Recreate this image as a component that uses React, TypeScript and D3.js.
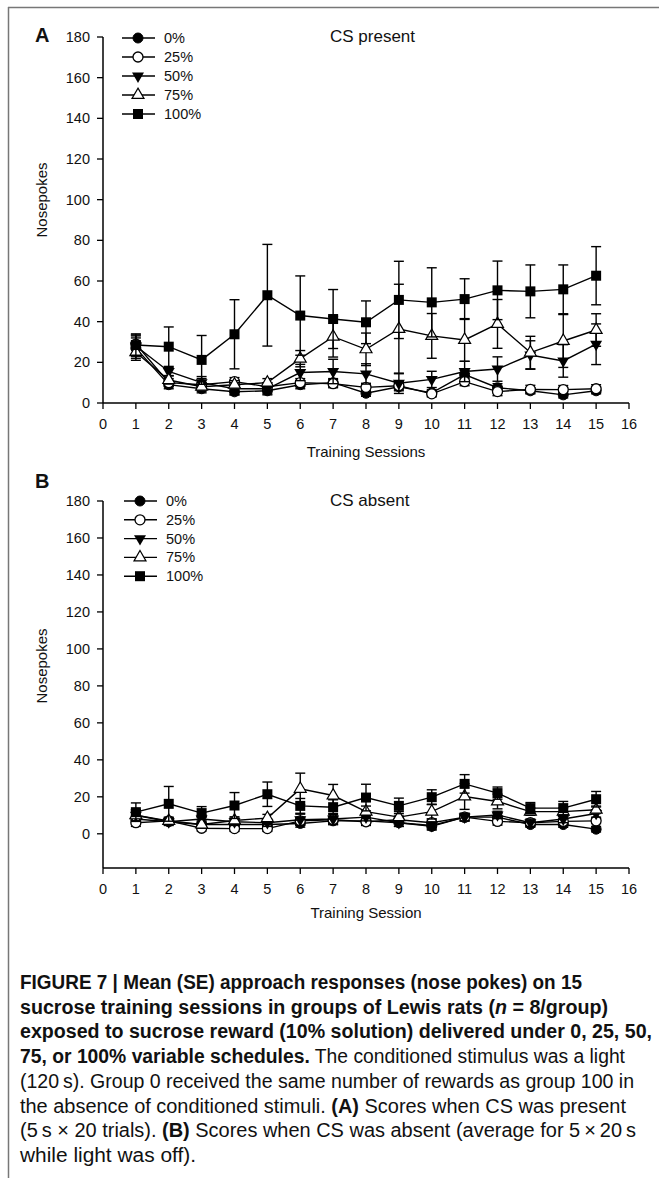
import React from 'react';
import * as d3 from 'd3';

// training sessions and group labels
const sessions = [1, 2, 3, 4, 5, 6, 7, 8, 9, 10, 11, 12, 13, 14, 15];
const groups = ['0%', '25%', '50%', '75%', '100%'];
const xTicks = [0, 1, 2, 3, 4, 5, 6, 7, 8, 9, 10, 11, 12, 13, 14, 15, 16];
const yTicks = [0, 20, 40, 60, 80, 100, 120, 140, 160, 180];

// A: CS present (means)
const present0 = [27, 9, 7, 5.5, 6, 9, 10, 4.8, 8, 5, 14, 7.5, 6, 4, 6];
const present25 = [29, 10, 9, 10.5, 8, 10, 9.5, 7.7, 8.5, 4.5, 10.5, 5.6, 6.7, 6.6, 7];
const present50 = [28, 15.5, 10, 7, 7, 15, 15.5, 14.3, 9.7, 11.6, 15.5, 16.7, 23.6, 20.7, 28.9];
const present75 = [25, 11.3, 8, 9, 10, 21.8, 32.6, 26.4, 36.4, 33, 31, 38.9, 24.8, 30.5, 35.9];
const present100 = [28.5, 27.7, 21.2, 33.8, 53, 43, 41.3, 39.7, 50.7, 49.5, 51.1, 55.4, 54.9, 55.9, 62.6];
// A: standard errors
const presentSe0 = [5, 2, 2, 1.5, 1.5, 2, 2, 1.5, 2, 1.5, 2, 2, 1.5, 1.5, 1.5];
const presentSe25 = [5, 2, 3, 2, 2, 2, 2, 2, 2, 1.5, 2, 2, 2, 2, 2];
const presentSe50 = [5, 2, 3, 3, 3, 4, 6, 5, 5, 4, 5, 6, 7, 8, 10];
const presentSe75 = [4, 2, 2, 2, 2, 4, 10, 8, 22, 11, 10.5, 12, 8, 13, 8];
const presentSe100 = [5, 9.7, 12, 17, 25, 19.5, 14.5, 10.5, 19, 17, 10, 14.4, 13, 12, 14.3];

// B: CS absent (means)
const absent0 = [8, 6.5, 5, 5, 5, 5.6, 7, 7, 6, 4, 9, 9, 5, 5, 2.5];
const absent25 = [6, 7, 3, 2.8, 2.8, 7, 7.6, 6.5, 7.6, 6, 9, 6.7, 6, 6.7, 7];
const absent50 = [10, 6.5, 8, 6.5, 6, 7.6, 8, 9, 6, 4.5, 9, 10.2, 6, 8, 11];
const absent75 = [10, 7, 5, 7.2, 8.5, 24.3, 20.7, 12, 9, 12, 20.2, 17.5, 12, 12, 13];
const absent100 = [11.7, 16.2, 11.2, 15.3, 21.4, 15.1, 14.4, 19.6, 15.1, 19.8, 27, 22, 13.9, 13.9, 18.7];
// B: standard errors
const absentSe0 = [2, 1.5, 1.5, 1.5, 1.5, 2, 2, 2, 2, 2, 2, 2, 1.5, 1.5, 1.5];
const absentSe25 = [2, 1.5, 1.5, 1.5, 1.5, 2, 2, 2, 2, 2, 2, 2, 1.5, 1.5, 1.5];
const absentSe50 = [3, 2, 2, 2, 2, 3, 3, 2, 2, 2, 2, 2, 2, 2, 2];
const absentSe75 = [3, 2, 2, 2, 2, 8.5, 6, 3, 3, 4, 7, 4, 2, 2, 2];
const absentSe100 = [5, 9.4, 3.5, 7, 6.6, 4, 4, 7.2, 4.2, 4, 5, 3.3, 3, 3.6, 4.2];

const FONT = "'Liberation Sans', Arial, sans-serif";

type PanelProps = {
  means: number[][];
  ses: number[][];
  yDomain: [number, number];
  yRange: [number, number];
  letter: string;
  letterY: number;
  title: string;
  titleY: number;
  xTitle: string;
  xTitleDy: number;
  legendY: number;
  legendStep: number;
  legendX: number;
  yLabelY: number;
};

const Marker = ({ g, x, y }: { g: number; x: number; y: number }) => {
  if (g === 0) return <circle cx={x} cy={y} r={5} fill="#000" stroke="#000" strokeWidth={1} />;
  if (g === 1) return <circle cx={x} cy={y} r={5} fill="#fff" stroke="#000" strokeWidth={1.3} />;
  if (g === 4) return <rect x={x - 5} y={y - 5} width={10} height={10} fill="#000" />;
  const tri = d3.symbol().type(d3.symbolTriangle).size(62)();
  if (g === 2) return <path d={tri || ''} transform={`translate(${x},${y}) rotate(180)`} fill="#000" />;
  return <path d={tri || ''} transform={`translate(${x},${y})`} fill="#fff" stroke="#000" strokeWidth={1.2} />;
};

const Panel = (p: PanelProps) => {
  const x = d3.scaleLinear().domain([0, 16]).range([103, 629]);
  const y = d3.scaleLinear().domain(p.yDomain).range(p.yRange);
  const yBase = p.yRange[0];
  const line = d3.line<number>().x((_, i) => x(sessions[i])).y(d => y(d));

  return (
    <g fontFamily={FONT} fill="#111">
      <text x={35} y={p.letterY} fontSize={20} fontWeight="bold">{p.letter}</text>
      <text x={330} y={p.titleY} fontSize={17}>{p.title}</text>
      <text transform={`translate(47,${p.yLabelY}) rotate(-90)`} textAnchor="middle" fontSize={15}>Nosepokes</text>
      <text x={366} y={yBase + p.xTitleDy} textAnchor="middle" fontSize={15}>{p.xTitle}</text>

      {/* axes */}
      <line x1={103} x2={103} y1={yBase} y2={y(180)} stroke="#000" strokeWidth={1.5} />
      <line x1={103} x2={629} y1={yBase} y2={yBase} stroke="#000" strokeWidth={1.5} />
      {yTicks.map(t => (
        <g key={'y' + t}>
          <line x1={97} x2={103} y1={y(t)} y2={y(t)} stroke="#000" strokeWidth={1.3} />
          <text x={90} y={y(t) + 5} textAnchor="end" fontSize={14.5}>{t}</text>
        </g>
      ))}
      {xTicks.map(t => (
        <g key={'x' + t}>
          <line x1={x(t)} x2={x(t)} y1={yBase} y2={yBase + 6} stroke="#000" strokeWidth={1.3} />
          <text x={x(t)} y={yBase + 26} textAnchor="middle" fontSize={14.5}>{t}</text>
        </g>
      ))}

      {/* series */}
      {p.means.map((m, g) => (
        <g key={'s' + g}>
          {m.map((v, i) => {
            const cx = x(sessions[i]);
            const lo = y(v - p.ses[g][i]);
            const hi = y(v + p.ses[g][i]);
            return (
              <g key={i} stroke="#000" strokeWidth={1.4}>
                <line x1={cx} x2={cx} y1={lo} y2={hi} />
                <line x1={cx - 5} x2={cx + 5} y1={hi} y2={hi} />
                <line x1={cx - 5} x2={cx + 5} y1={lo} y2={lo} />
              </g>
            );
          })}
          <path d={line(m) || ''} fill="none" stroke="#000" strokeWidth={1.4} />
          {m.map((v, i) => <Marker key={i} g={g} x={x(sessions[i])} y={y(v)} />)}
        </g>
      ))}

      {/* legend */}
      {groups.map((name, g) => {
        const ly = p.legendY + g * p.legendStep;
        return (
          <g key={name}>
            <line x1={p.legendX} x2={p.legendX + 33} y1={ly} y2={ly} stroke="#000" strokeWidth={1.4} />
            <Marker g={g} x={p.legendX + 16} y={ly} />
            <text x={p.legendX + 42} y={ly + 5} fontSize={14.5}>{name}</text>
          </g>
        );
      })}
    </g>
  );
};

const captionLines: { parts: { t: string; b?: boolean; i?: boolean }[]; w: number }[] = [
  { parts: [{ t: 'FIGURE 7 | Mean (SE) approach responses (nose pokes) on 15', b: true }], w: 562 },
  { parts: [{ t: 'sucrose training sessions in groups of Lewis rats (', b: true }, { t: 'n', b: true, i: true }, { t: ' = 8/group)', b: true }], w: 588 },
  { parts: [{ t: 'exposed to sucrose reward (10% solution) delivered under 0, 25, 50,', b: true }], w: 632 },
  { parts: [{ t: '75, or 100% variable schedules.', b: true }, { t: ' The conditioned stimulus was a light' }], w: 605 },
  { parts: [{ t: '(120\u2009s). Group 0 received the same number of rewards as group 100 in' }], w: 614 },
  { parts: [{ t: 'the absence of conditioned stimuli. ' }, { t: '(A)', b: true }, { t: ' Scores when CS was present' }], w: 606 },
  { parts: [{ t: '(5\u2009s \u00d7 20 trials). ' }, { t: '(B)', b: true }, { t: ' Scores when CS was absent (average for 5\u2009\u00d7\u200920\u2009s' }], w: 616 },
  { parts: [{ t: 'while light was off).' }], w: 176 },
];

export default function App() {
  return (
    <svg width={659} height={1178} style={{ position: 'absolute', left: 0, top: 0, background: '#fff' }}>
      <rect width={659} height={1178} fill="#fff" />
      <line x1={8} x2={659} y1={7.5} y2={7.5} stroke="#777" strokeWidth={1.5} />
      <line x1={8.5} x2={8.5} y1={7} y2={1178} stroke="#777" strokeWidth={1.5} />

      <Panel
        means={[present0, present25, present50, present75, present100]}
        ses={[presentSe0, presentSe25, presentSe50, presentSe75, presentSe100]}
        yDomain={[0, 180]} yRange={[403, 37]}
        letter="A" letterY={42} title="CS present" titleY={42}
        xTitle="Training Sessions" xTitleDy={54}
        legendX={122} legendY={38} legendStep={19} yLabelY={200}
      />
      <Panel
        means={[absent0, absent25, absent50, absent75, absent100]}
        ses={[absentSe0, absentSe25, absentSe50, absentSe75, absentSe100]}
        yDomain={[-18.5, 180]} yRange={[868, 501]}
        letter="B" letterY={488} title="CS absent" titleY={506}
        xTitle="Training Session" xTitleDy={50}
        legendX={124} legendY={501} legendStep={18.8} yLabelY={666}
      />

      <g fontFamily="'Liberation Sans Narrow', 'Liberation Sans', Arial, sans-serif" fontSize={19.5} fill="#111">
        {captionLines.map((l, k) => (
          <text key={k} x={20} y={989 + k * 24.7} textLength={l.w} lengthAdjust="spacingAndGlyphs">
            {l.parts.map((p, j) => (
              <tspan key={j} fontWeight={p.b ? 'bold' : 'normal'} fontStyle={p.i ? 'italic' : 'normal'}>{p.t}</tspan>
            ))}
          </text>
        ))}
      </g>
    </svg>
  );
}
